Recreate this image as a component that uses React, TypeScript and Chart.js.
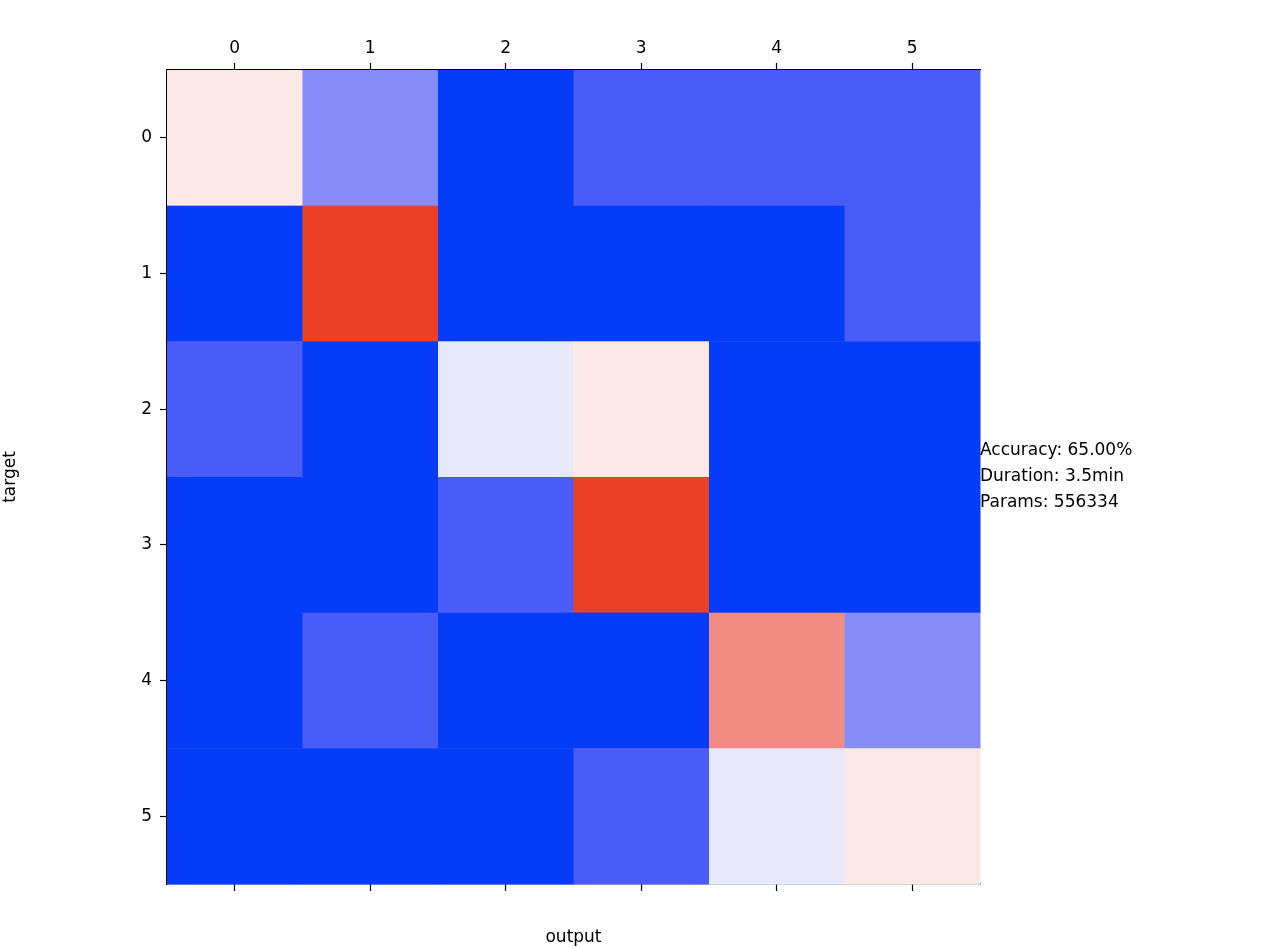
import React, { useEffect, useRef } from 'react';
import { Chart, registerables } from 'chart.js';

Chart.register(...registerables);

const labels = ['0', '1', '2', '3', '4', '5'];
const row0 = [4, 2, 0, 1, 1, 1];
const row1 = [0, 6, 0, 0, 0, 1];
const row2 = [1, 0, 3, 4, 0, 0];
const row3 = [0, 0, 1, 6, 0, 0];
const row4 = [0, 1, 0, 0, 5, 2];
const row5 = [0, 0, 0, 1, 3, 4];
const matrix = [row0, row1, row2, row3, row4, row5];
const palette = ['#043cf7', '#4a5cf8', '#868cf7', '#e8e8fc', '#fbe9e7', '#f08c84', '#ea4025'];
const infoLines = ['Accuracy: 65.00%', 'Duration: 3.5min', 'Params: 556334'];

const FONT = 'DejaVu Sans';

const heatmap = {
  id: 'heatmap',
  beforeDatasetsDraw(chart: any) {
    const { ctx, scales } = chart;
    const x = scales.x;
    const y = scales.y;
    matrix.forEach((row, r) => {
      row.forEach((v, c) => {
        const x0 = x.getPixelForValue(c - 0.5);
        const x1 = x.getPixelForValue(c + 0.5);
        const y0 = y.getPixelForValue(r - 0.5);
        const y1 = y.getPixelForValue(r + 0.5);
        ctx.fillStyle = palette[v];
        ctx.fillRect(x0, y0, x1 - x0 + 0.5, y1 - y0 + 0.5);
      });
    });
  },
  afterDraw(chart: any) {
    const { ctx, chartArea } = chart;
    ctx.save();
    ctx.fillStyle = '#000';
    ctx.font = `17px "${FONT}"`;
    ctx.textBaseline = 'middle';
    const mid = (chartArea.top + chartArea.bottom) / 2;
    infoLines.forEach((t, i) => ctx.fillText(t, chartArea.right, mid - 26 + i * 26));
    ctx.restore();
  },
};

export default function App() {
  const canvasRef = useRef<HTMLCanvasElement | null>(null);

  useEffect(() => {
    if (!canvasRef.current) return;
    const tickFont = { family: FONT, size: 17 };
    const common = {
      type: 'linear' as const,
      min: -0.5,
      max: 5.5,
      border: { display: true, color: '#000', width: 1.2 },
      grid: { drawOnChartArea: false, tickLength: 7, tickColor: '#000', tickWidth: 1.2 },
    };
    const chart = new Chart(canvasRef.current, {
      type: 'scatter',
      data: { datasets: [{ data: [], xAxisID: 'x', yAxisID: 'y' }] },
      plugins: [heatmap],
      options: {
        animation: false,
        responsive: false,
        plugins: { legend: { display: false }, tooltip: { enabled: false } },
        layout: { padding: { left: 0, right: 286, top: 0, bottom: 0 } },
        scales: {
          x: {
            ...common,
            position: 'top',
            afterBuildTicks: (s: any) => { s.ticks = labels.map((_, i) => ({ value: i })); },
            ticks: { font: tickFont, color: '#000', padding: 4, callback: (v: any) => labels[v] },
            afterFit: (s: any) => { s.height = 70; },
          },
          x2: {
            ...common,
            position: 'bottom',
            afterBuildTicks: (s: any) => { s.ticks = labels.map((_, i) => ({ value: i })); },
            ticks: { font: tickFont, color: '#000', callback: () => '' },
            title: { display: true, text: 'output', font: tickFont, color: '#000', padding: 0 },
            afterFit: (s: any) => { s.height = 64; },
          },
          y: {
            ...common,
            reverse: true,
            afterBuildTicks: (s: any) => { s.ticks = labels.map((_, i) => ({ value: i })); },
            ticks: { font: tickFont, color: '#000', padding: 8, callback: (v: any) => labels[v] },
            title: { display: true, text: 'target', font: tickFont, color: '#000', padding: 0 },
            afterFit: (s: any) => { s.width = 167; },
          },
        },
      },
    });
    return () => chart.destroy();
  }, []);

  return (
    <div style={{ position: 'fixed', left: 0, top: 0, width: 1266, height: 948, background: '#fff' }}>
      <canvas ref={canvasRef} width={1266} height={948} />
    </div>
  );
}
